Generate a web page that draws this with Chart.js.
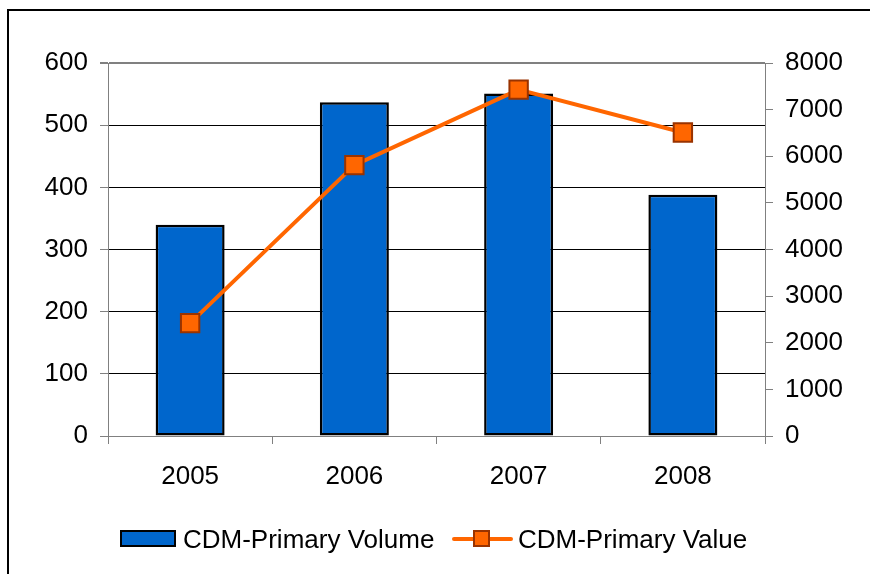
<!DOCTYPE html>
<html>
<head>
<meta charset="utf-8">
<script src="https://cdn.jsdelivr.net/npm/chart.js@4"></script>
<style>
  html, body { margin: 0; padding: 0; background: #fff; }
  #wrap { position: relative; width: 870px; height: 574px; }
</style>
</head>
<body>
<div id="wrap"><canvas id="cdmChart" width="870" height="574"></canvas></div>
<script>
// chart data
const years = ['2005', '2006', '2007', '2008'];
const primaryVolume = [340, 537, 551, 388];
const primaryValue = [2420, 5810, 7430, 6510];
const volumeTicks = [0, 100, 200, 300, 400, 500, 600];
const valueTicks = [0, 1000, 2000, 3000, 4000, 5000, 6000, 7000, 8000];
const seriesNames = ['CDM-Primary Volume', 'CDM-Primary Value'];

const FONT = "'Liberation Sans', Arial, sans-serif";
const AXIS_GRAY = '#808080';

// outer frame (top + left only, like the original)
const framePlugin = {
  id: 'frame',
  afterDraw(chart) {
    const ctx = chart.ctx;
    ctx.save();
    ctx.strokeStyle = '#000';
    ctx.lineWidth = 2;
    ctx.beginPath();
    ctx.moveTo(8, 574);
    ctx.lineTo(8, 10);
    ctx.lineTo(870, 10);
    ctx.stroke();
    ctx.restore();
  }
};

// legend drawn by hand: box for bars, line + square marker for the line
const legendPlugin = {
  id: 'customLegend',
  afterDraw(chart) {
    const ctx = chart.ctx;
    const y = 540;
    ctx.save();
    ctx.font = '26px ' + FONT;
    ctx.textBaseline = 'middle';

    // bar entry
    ctx.fillStyle = '#0066CC';
    ctx.fillRect(121, 531, 54, 15);
    ctx.strokeStyle = '#000';
    ctx.lineWidth = 2;
    ctx.strokeRect(121, 531, 54, 15);
    ctx.fillStyle = '#000';
    ctx.fillText(seriesNames[0], 183, y + 1);

    // line entry
    ctx.strokeStyle = '#FF6600';
    ctx.lineWidth = 4;
    ctx.lineCap = 'round';
    ctx.beginPath();
    ctx.moveTo(454, y - 1);
    ctx.lineTo(511, y - 1);
    ctx.stroke();
    ctx.fillStyle = '#FF6600';
    ctx.fillRect(474, 531, 15, 15);
    ctx.strokeStyle = '#993300';
    ctx.lineWidth = 2;
    ctx.strokeRect(474, 531, 15, 15);
    ctx.fillStyle = '#000';
    ctx.fillText(seriesNames[1], 518, y + 1);
    ctx.restore();
  }
};

const ctx = document.getElementById('cdmChart').getContext('2d');
new Chart(ctx, {
  type: 'bar',
  data: {
    labels: years,
    datasets: [
      {
        type: 'line',
        label: seriesNames[1],
        data: primaryValue,
        yAxisID: 'y1',
        borderColor: '#FF6600',
        borderWidth: 4,
        pointStyle: 'rect',
        pointRadius: 13,
        pointHoverRadius: 13,
        pointBackgroundColor: '#FF6600',
        pointBorderColor: '#993300',
        pointBorderWidth: 2,
        tension: 0,
        order: 0
      },
      {
        type: 'bar',
        label: seriesNames[0],
        data: primaryVolume,
        yAxisID: 'y',
        backgroundColor: '#0066CC',
        borderColor: '#000',
        borderWidth: 2.5,
        borderSkipped: false,
        categoryPercentage: 1,
        barPercentage: 0.42,
        order: 1
      }
    ]
  },
  options: {
    responsive: false,
    animation: false,
    devicePixelRatio: 1,
    layout: { padding: { left: 10, top: 63, right: 0, bottom: 78 } },
    plugins: {
      legend: { display: false },
      tooltip: { enabled: false }
    },
    scales: {
      x: {
        offset: true,
        grid: {
          offset: true,
          drawOnChartArea: false,
          tickLength: 8,
          tickColor: AXIS_GRAY,
          tickWidth: 1
        },
        border: { color: AXIS_GRAY, width: 1 },
        ticks: {
          color: '#000',
          font: { family: FONT, size: 26 },
          padding: 17,
          maxRotation: 0
        },
        afterFit(scale) { scale.height = 60; }
      },
      y: {
        position: 'left',
        min: 0,
        max: 600,
        afterBuildTicks(scale) { scale.ticks = volumeTicks.map(v => ({ value: v })); },
        grid: {
          color: c => (c.tick && (c.tick.value === 600 || c.tick.value === 0)) ? AXIS_GRAY : '#000',
          lineWidth: c => (c.tick && c.tick.value === 600) ? 2 : 1,
          tickLength: 8,
          tickColor: AXIS_GRAY
        },
        border: { color: AXIS_GRAY, width: 1 },
        ticks: {
          color: '#000',
          font: { family: FONT, size: 26 },
          padding: 12,
          callback: v => String(v)
        },
        afterFit(scale) { scale.width = 98; }
      },
      y1: {
        position: 'right',
        min: 0,
        max: 8000,
        afterBuildTicks(scale) { scale.ticks = valueTicks.map(v => ({ value: v })); },
        grid: {
          drawOnChartArea: false,
          tickLength: 8,
          tickColor: AXIS_GRAY
        },
        border: { color: AXIS_GRAY, width: 1 },
        ticks: {
          color: '#000',
          font: { family: FONT, size: 26 },
          padding: 12,
          callback: v => String(v)
        },
        afterFit(scale) { scale.width = 105; }
      }
    }
  },
  plugins: [framePlugin, legendPlugin]
});
</script>
</body>
</html>
